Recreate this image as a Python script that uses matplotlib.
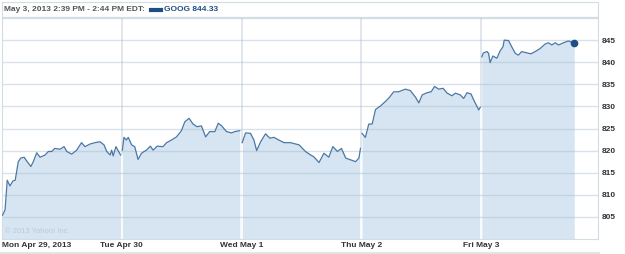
import matplotlib
matplotlib.use('Agg')
import matplotlib.pyplot as plt
from matplotlib.lines import Line2D
from matplotlib.patches import Rectangle

plt.rcParams['font.family'] = ['Liberation Sans', 'DejaVu Sans']

# minutes after 9:30 open, and price, one pair of lists per trading day
day_labels = ['Mon Apr 29, 2013', 'Tue Apr 30', 'Wed May 1', 'Thu May 2', 'Fri May 3']
minutes = [
    [2, 10, 17, 26, 35, 43, 53, 61, 72, 80, 94, 102, 113, 124, 140, 151, 162, 172, 189, 202,
     211, 227, 243, 259, 270, 287, 303, 319, 332, 341, 352, 357, 362, 371, 386],
    [2, 7, 15, 21, 32, 42, 53, 64, 80, 93, 102, 115, 134, 146, 162, 178, 194, 205, 219, 232,
     245, 259, 273, 286, 303, 314, 325, 341, 357, 368, 384],
    [2, 13, 29, 40, 49, 62, 78, 92, 105, 121, 138, 159, 187, 208, 225, 235, 252, 268, 284, 297,
     312, 325, 339, 355, 371, 382, 387],
    [2, 13, 24, 35, 46, 62, 78, 92, 105, 121, 143, 159, 176, 187, 198, 214, 227, 238, 252, 266,
     279, 295, 306, 322, 333, 344, 357, 366, 374, 382, 387],
    [2, 7, 19, 24, 29, 38, 51, 62, 71, 75, 89, 100, 111, 121, 132, 149, 162, 176, 192, 208,
     219, 230, 241, 252, 268, 284, 303],
]
prices = [
    [805.4, 806.6, 813.3, 812.0, 813.1, 813.3, 817.5, 818.3, 818.5, 817.7, 816.4, 817.5, 819.5,
     818.5, 819.0, 819.8, 819.8, 820.5, 820.3, 820.9, 819.8, 819.2, 820.1, 821.8, 820.9, 821.5,
     821.8, 822.0, 821.3, 819.8, 819.0, 820.1, 818.8, 820.9, 819.0],
    [820.1, 823.0, 822.4, 823.0, 821.3, 820.9, 818.0, 819.4, 820.1, 821.0, 820.1, 821.0, 820.9,
     821.8, 822.4, 823.1, 824.5, 826.5, 827.3, 826.0, 825.4, 825.6, 823.1, 824.3, 824.3, 826.2,
     825.6, 824.3, 824.0, 824.3, 824.5],
    [821.8, 824.0, 823.9, 822.4, 820.0, 822.0, 823.8, 822.8, 823.0, 822.4, 821.8, 821.8, 821.3,
     819.8, 819.0, 818.6, 817.3, 819.4, 818.5, 820.9, 819.8, 820.5, 818.3, 817.9, 817.5, 818.3,
     820.5],
    [823.9, 823.0, 826.0, 826.0, 829.3, 830.1, 831.1, 832.1, 833.3, 833.3, 833.9, 833.6, 832.1,
     830.8, 832.6, 833.1, 833.3, 834.5, 833.9, 834.1, 833.0, 832.4, 833.0, 832.6, 831.8, 833.1,
     832.8, 831.4, 830.3, 829.2, 829.8],
    [841.2, 842.1, 842.4, 842.0, 839.9, 841.4, 840.9, 842.6, 843.5, 845.0, 844.9, 843.4, 842.0,
     841.6, 842.4, 842.1, 841.9, 842.4, 843.1, 844.1, 844.4, 843.9, 844.4, 843.9, 844.4, 844.8,
     844.33],
]
y_ticks = [805, 810, 815, 820, 825, 830, 835, 840, 845]
header = 'May 3, 2013 2:39 PM - 2:44 PM EDT:'
legend_label = 'GOOG 844.33'

W, H = 625, 254
fig = plt.figure(figsize=(W / 100, H / 100), dpi=100)
ax = fig.add_axes([2 / W, 1 - 239 / H, 596 / W, 222 / H])

line_c = '#4a77a6'
fill_c = '#d6e5f1'
grid_c = '#dbe3ea'
text_c = '#333333'

for i in range(5):
    t = [i + m / 390 for m in minutes[i]]
    ax.fill_between(t, 800, prices[i], color=fill_c, lw=0, zorder=1)
    ax.plot(t, prices[i], color=line_c, lw=0.9, zorder=3)
    if i > 0:
        ax.axvline(i, color=grid_c, lw=1.2, zorder=0)
        ax.vlines(i, 800, min(prices[i - 1][-1], prices[i][0]), color='white', lw=1.2, zorder=2)

last_t = 4 + minutes[4][-1] / 390
ax.plot(last_t, prices[4][-1], 'o', color='#1d4f85', ms=4.5, zorder=4)

for v in y_ticks + [850]:
    ax.axhline(v, color='#a9bdd0', alpha=0.45, lw=1, zorder=2)

ax.set_xlim(0, 596 / 119.8)
ax.set_ylim(800, 800 + 222 / 4.42)

ax.yaxis.tick_right()
ax.set_yticks(y_ticks)
ax.set_yticklabels([str(v) for v in y_ticks], fontsize=6, fontweight='bold', color=text_c)
ax.tick_params(axis='y', length=0, pad=2.5)

ax.set_xticks(range(5))
ax.set_xticklabels(day_labels, fontsize=6, fontweight='bold', color=text_c)
ax.get_xticklabels()[0].set_horizontalalignment('left')
ax.tick_params(axis='x', length=0, pad=2)

for s in ax.spines.values():
    s.set_color('#d3dbe3')
    s.set_linewidth(0.8)

ax.text(0.025, 801.3, '\u00a9 2013 Yahoo! Inc.', fontsize=5.5, color='#b9cad8', zorder=5)

# header strip
fig.add_artist(Rectangle((2 / W, 1 - 17 / H), 596 / W, 15 / H, transform=fig.transFigure,
                         fill=False, edgecolor='#d3dbe3', lw=0.8))
fig.text(4 / W, 1 - 9.5 / H, header, fontsize=6, fontweight='bold', color='#555555', va='center')
fig.add_artist(Line2D([151 / W, 161 / W], [1 - 9.5 / H] * 2, color='#1d4f85', lw=3,
                      transform=fig.transFigure))
fig.text(164 / W, 1 - 9.5 / H, legend_label, fontsize=6, fontweight='bold', color='#1d4f85', va='center')

# bottom rule
fig.add_artist(Line2D([0, 598 / W], [1 - 252.5 / H] * 2, color='#e2e2e2', lw=2,
                      transform=fig.transFigure))

fig.savefig('out.png', dpi=100)
